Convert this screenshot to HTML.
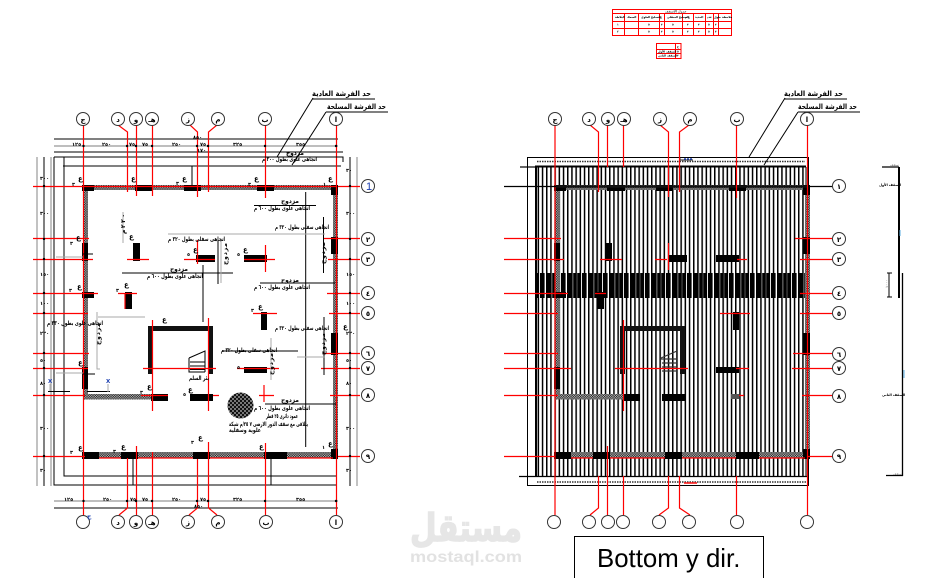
<!DOCTYPE html>
<html lang="ar"><head><meta charset="utf-8"><title>Bottom y dir.</title>
<style>
html,body{margin:0;padding:0;background:#fff;width:932px;height:578px;overflow:hidden}
svg{display:block}
.r{stroke:#f00;stroke-width:1.2;fill:none}
.k{stroke:#000;stroke-width:1;fill:none}
.g{stroke:#a8a8a8;stroke-width:1.4;fill:none}
.c{stroke:#333;stroke-width:1;fill:#fff}
text{font-family:"DejaVu Sans","Liberation Sans",sans-serif;font-weight:700;fill:#000}
.a{font-size:6px}
.n{font-size:5px}
.l{font-size:7.5px}
.e{font-size:7px}
</style></head><body>
<svg width="932" height="578" viewBox="0 0 932 578" xmlns="http://www.w3.org/2000/svg">
<defs>
<pattern id="h" width="2.4" height="2.4" patternUnits="userSpaceOnUse"><rect width="2.4" height="2.4" fill="#b5b5b5"/><rect width="1.2" height="1.2" fill="#222"/><rect x="1.2" y="1.2" width="1.2" height="1.2" fill="#222"/></pattern>
<pattern id="cc" width="4" height="4" patternUnits="userSpaceOnUse"><rect width="4" height="4" fill="#777"/><rect width="2" height="2" fill="#111"/><rect x="2" y="2" width="2" height="2" fill="#111"/></pattern>
<pattern id="v" width="4.2" height="10" patternUnits="userSpaceOnUse"><rect width="1.5" height="10" fill="#000"/></pattern>
<pattern id="b" width="21" height="10" patternUnits="userSpaceOnUse"><rect width="5" height="10" fill="#000"/><rect x="6.2" width="2.8" height="10" fill="#000"/><rect x="10.2" width="3.6" height="10" fill="#000"/><rect x="15" width="4.6" height="10" fill="#000"/></pattern>
<g id="st">
<rect x="82" y="185" width="255" height="5" fill="url(#h)"/>
<rect x="83" y="185" width="5" height="212" fill="url(#h)"/>
<rect x="333" y="185" width="5" height="272" fill="url(#h)"/>
<rect x="82" y="452" width="255" height="6" fill="url(#h)"/>
<rect x="83" y="394" width="70" height="5.5" fill="url(#h)"/>
<g fill="#000">
<rect x="82" y="185" width="12" height="6"/><rect x="135" y="185" width="18" height="6"/><rect x="184" y="185" width="17" height="6"/><rect x="257" y="185" width="17" height="6"/><rect x="331" y="185" width="7" height="10"/>
<rect x="82" y="243" width="6" height="18"/><rect x="82" y="292" width="12" height="6"/><rect x="82" y="367" width="6" height="22"/>
<rect x="133" y="243" width="7" height="18"/><rect x="125" y="292" width="7" height="17"/><rect x="196" y="255" width="19" height="7"/><rect x="244" y="255" width="23" height="7"/><rect x="261" y="312" width="6" height="18"/><rect x="244" y="367" width="23" height="6"/><rect x="151" y="394" width="17" height="7"/><rect x="190" y="394" width="23" height="7"/>
<rect x="331" y="237" width="7" height="17"/><rect x="331" y="333" width="7" height="22"/>
<rect x="82" y="452" width="17" height="7"/><rect x="121" y="452" width="17" height="7"/><rect x="193" y="452" width="17" height="7"/><rect x="264" y="452" width="23" height="7"/><rect x="331" y="449" width="7" height="10"/>
</g>
<path d="M148 326H213V374H208V331H153V374H148Z" fill="#111"/>
</g>
</defs>

<!-- schedules -->
<g fill="none" stroke="#f00" stroke-width="1">
<rect x="612.5" y="9.5" width="119" height="26"/>
<path d="M612 13.5H732M612 21.5H732M612 28.5H732M624.5 14V35M638.5 14V35M659.5 14V35M664.5 14V35M682.5 14V35M693.5 14V35M705.5 14V35M713.5 14V35M718.5 14V35"/>
<rect x="656.5" y="43.5" width="24.5" height="15"/>
<path d="M656 49.5H681M656 53.5H681M675.5 43V58"/>
</g>
<g style="font-size:2.8px">
<text x="665" y="12.5" style="font-size:3px;fill:#555">جدول الأسقف</text>
<text x="615" y="18">البلاطة</text><text x="627" y="18">السمك</text><text x="641" y="18">التسليح العلوي</text><text x="660" y="18">ع</text><text x="667" y="18">التسليح السفلي</text><text x="685" y="18">ع م</text><text x="695" y="18">الحديد</text><text x="707" y="18">عدد</text><text x="714" y="18">طول</text><text x="722" y="18">ملاحظة</text>
<text x="617" y="25.5">١</text><text x="648" y="25.5">٥</text><text x="661" y="25.5">٣</text><text x="672" y="25.5">٥</text><text x="687" y="25.5">٣</text><text x="698" y="25.5">٣</text><text x="708" y="25.5">٥</text><text x="715" y="25.5">٣</text>
<text x="617" y="32.5">٢</text><text x="648" y="32.5">٥</text><text x="661" y="32.5">٣</text><text x="672" y="32.5">٥</text><text x="687" y="32.5">٣</text><text x="698" y="32.5">٣</text><text x="708" y="32.5">٥</text><text x="715" y="32.5">٣</text>
<text x="658" y="52.5">السقف الأول</text><text x="677" y="47.5">ع</text><text x="677" y="52.5">٥</text><text x="658" y="56.5">السقف الثاني</text><text x="677" y="56.5">٣</text>
</g>

<!-- ===== LEFT PLAN ===== -->
<g class="k">
<path d="M54 139H338M54 152H343M54 157H343V162M63 166H341M54 157V485H337M64 157V476H337"/>
<path d="M133 459V485M271 459V485M192 166V186"/>
<path d="M44 157V486M350 157V486"/>
<path d="M54 508H338"/>
</g>
<g class="g">
<path d="M54 146H338M54 501H338M37 157V486M51 157V486M357 157V486" />
</g>
<use href="#st"/>
<circle cx="240.5" cy="405.5" r="13" fill="url(#cc)"/>
<!-- stair -->
<path class="k" d="M189 358L205 351V372M189 358V372H205M190 362H205M190 366H205M190 369.5H205"/>
<!-- reds verticals -->
<g class="r">
<path d="M83.5 125V515M118 125L127.5 132V192M136.5 125V196M152.5 125V196M190 125L197.5 132V197M217 125L208.5 132V192M265.5 125V198M336.5 125V515"/>
<path d="M88 186.5H336M99 458H121M138 458H193M210 458H264M287 458H333"/>
<path d="M152.5 320V411M208.5 318V411M197.5 240V264M265.5 245V272M152.5 452V515M136.5 446V515M127.5 458V508L119 515M197.5 459V508L189 515M208.5 442V508L217 515M265.5 443V515"/>
<path d="M33 186.5H88M33 238.5H89M33 259.5H93M33 293.5H98M33 313.5H88M33 353.5H89M33 368.5H88M33 395.5H85M33 456.5H85"/>
<path d="M338 186.5H360M323 238.5H360M328 259.5H360M327 293.5H360M329 313.5H360M323 353.5H360M321 368.5H360M330 395.5H360M338 456.5H360"/>
<path d="M127 259.5H149M184 259.5H215M244 259.5H275M118 293.5H137M253 313.5H277M143 368.5H216M237 368.5H279M141 395.5H168M213 395.5H219M259 395.5H274M264 385V402M125 309V293"/>
</g>
<!-- callout and dimension lines -->
<g class="k">
<path d="M312 99H375M313 98L277 157M326 112H388M326 112L292 165"/>
<path d="M262 157H342M254 205.5H316M122 273H233M260 283H335M222 351H298M265 404H336"/>
<path d="M305.7 192V447M323.5 217V273M203 265V322M324 317V375M93 254H83M95 374H83M218 284V240"/>
<path d="M48 391.5H70M87 391.5H110"/>
</g>
<g class="g" style="stroke-width:1">
<path d="M168 234H325M123 212V243M221 240V283M97 312V369H100M98 317H145M271 338V380M297 357H325"/>
<path d="M56 257H83M56 373H83M50 384V391M108 384V392"/>
</g>
<g fill="#000">
<circle cx="83.5" cy="146" r="1.2"/><circle cx="127" cy="146" r="1.2"/><circle cx="136" cy="146" r="1.2"/><circle cx="152" cy="146" r="1.2"/><circle cx="197" cy="146" r="1.2"/><circle cx="208" cy="146" r="1.2"/><circle cx="265" cy="146" r="1.2"/><circle cx="336" cy="146" r="1.2"/>
<circle cx="83.5" cy="501" r="1.2"/><circle cx="127" cy="501" r="1.2"/><circle cx="136" cy="501" r="1.2"/><circle cx="152" cy="501" r="1.2"/><circle cx="197" cy="501" r="1.2"/><circle cx="208" cy="501" r="1.2"/><circle cx="265" cy="501" r="1.2"/><circle cx="336" cy="501" r="1.2"/>
<circle cx="44" cy="186" r="1.2"/><circle cx="44" cy="239" r="1.2"/><circle cx="44" cy="259" r="1.2"/><circle cx="44" cy="293" r="1.2"/><circle cx="44" cy="313" r="1.2"/><circle cx="44" cy="353" r="1.2"/><circle cx="44" cy="368" r="1.2"/><circle cx="44" cy="395" r="1.2"/><circle cx="44" cy="456" r="1.2"/>
<circle cx="350" cy="186" r="1.2"/><circle cx="350" cy="239" r="1.2"/><circle cx="350" cy="259" r="1.2"/><circle cx="350" cy="293" r="1.2"/><circle cx="350" cy="313" r="1.2"/><circle cx="350" cy="353" r="1.2"/><circle cx="350" cy="368" r="1.2"/><circle cx="350" cy="395" r="1.2"/><circle cx="350" cy="456" r="1.2"/>
</g>
<!-- grid bubbles left -->
<g class="c">
<circle cx="83" cy="119" r="6.5"/><circle cx="118" cy="119" r="6.5"/><circle cx="136" cy="119" r="6.5"/><circle cx="152" cy="119" r="6.5"/><circle cx="188" cy="119" r="6.5"/><circle cx="218" cy="119" r="6.5"/><circle cx="265" cy="119" r="6.5"/><circle cx="336" cy="119" r="6.5"/>
<circle cx="83" cy="522" r="6.5"/><circle cx="118" cy="522" r="6.5"/><circle cx="136" cy="522" r="6.5"/><circle cx="152" cy="522" r="6.5"/><circle cx="188" cy="522" r="6.5"/><circle cx="218" cy="522" r="6.5"/><circle cx="266" cy="522" r="6.5"/><circle cx="336" cy="522" r="6.5"/>
<circle cx="368" cy="186" r="6.5"/><circle cx="368" cy="239" r="6.5"/><circle cx="368" cy="259" r="6.5"/><circle cx="368" cy="293" r="6.5"/><circle cx="368" cy="313" r="6.5"/><circle cx="368" cy="353" r="6.5"/><circle cx="368" cy="368" r="6.5"/><circle cx="368" cy="395" r="6.5"/><circle cx="368" cy="456" r="6.5"/>
</g>
<g class="e" text-anchor="middle">
<text x="83" y="122">ج</text><text x="118" y="122">د</text><text x="136" y="122">و</text><text x="152" y="122">هـ</text><text x="188" y="122">ز</text><text x="218" y="122">م</text><text x="265" y="122">ب</text><text x="336" y="122">ا</text>
<text x="118" y="525">د</text><text x="136" y="525">و</text><text x="152" y="525">هـ</text><text x="188" y="525">ز</text><text x="218" y="525">م</text><text x="266" y="525">ب</text><text x="336" y="525">ا</text>
<text x="368" y="242">٢</text><text x="368" y="262">٣</text><text x="368" y="296">٤</text><text x="368" y="316">٥</text><text x="368" y="356">٦</text><text x="368" y="371">٧</text><text x="368" y="398">٨</text><text x="368" y="459">٩</text>
</g>
<text x="369" y="190" style="font-size:11px;font-weight:400;fill:#1c3fb0;font-family:'Liberation Sans',sans-serif" text-anchor="middle">1</text>
<text x="87" y="518" style="font-size:6px;fill:#1c3fb0">ج</text>

<!-- main labels -->
<g class="l">
<text x="312" y="96" textLength="59" lengthAdjust="spacingAndGlyphs">حد الفرشة العادية</text>
<text x="327" y="109" textLength="59" lengthAdjust="spacingAndGlyphs">حد الفرشة المسلحة</text>
</g>
<g class="a">
<text x="262" y="161" textLength="55" lengthAdjust="spacingAndGlyphs">اتجاهى علوى بطول ٣٠٠ م</text>
<text x="254" y="210" textLength="56" lengthAdjust="spacingAndGlyphs">اتجاهى علوى بطول ٦٠٠ م</text>
<text x="275" y="229" textLength="54" lengthAdjust="spacingAndGlyphs">اتجاهى سفلى بطول ٣٢٠ م</text>
<text x="168" y="241" textLength="57" lengthAdjust="spacingAndGlyphs">اتجاهى سفلى بطول ٣٢٠ م</text>
<text x="147" y="278" textLength="56" lengthAdjust="spacingAndGlyphs">اتجاهى علوى بطول ٦٠٠ م</text>
<text x="254" y="289" textLength="56" lengthAdjust="spacingAndGlyphs">اتجاهى علوى بطول ٦٠٠ م</text>
<text x="275" y="330" textLength="54" lengthAdjust="spacingAndGlyphs">اتجاهى سفلى بطول ٣٢٠ م</text>
<text x="221" y="352" textLength="56" lengthAdjust="spacingAndGlyphs">اتجاهى سفلى بطول ٣٢٠ م</text>
<text x="47" y="325" textLength="56" lengthAdjust="spacingAndGlyphs">اتجاهى علوى بطول ٣٣٠ م</text>
<text x="254" y="410" textLength="56" lengthAdjust="spacingAndGlyphs">اتجاهى علوى بطول ٦٠٠ م</text>
<text x="266" y="418" textLength="32" lengthAdjust="spacingAndGlyphs">عمود دائرى ٢٥ قطر</text>
<text x="229" y="426" textLength="79" lengthAdjust="spacingAndGlyphs">يتلاقى مع سقف الدور الارضى ٧ ٢٥/م شبكة</text>
<text x="229" y="432" textLength="32" lengthAdjust="spacingAndGlyphs">علوية وسفلية</text>
<text x="189" y="380" textLength="20" lengthAdjust="spacingAndGlyphs">بئر السلم</text>
<text x="0" y="0" transform="translate(125,234) rotate(-90)" textLength="20">٢٢٠م</text>
<text x="0" y="0" transform="translate(325,264) rotate(-90)" textLength="22">مزدوج</text>
<text x="0" y="0" transform="translate(227,265) rotate(-90)" textLength="22">مزدوج</text>
<text x="0" y="0" transform="translate(100,345) rotate(-90)" textLength="22">مزدوج</text>
<text x="0" y="0" transform="translate(325,355) rotate(-90)" textLength="22">مزدوج</text>
<text x="0" y="0" transform="translate(273,375) rotate(-90)" textLength="22">مزدوج</text>
<text x="286" y="155" textLength="18">مزدوج</text><text x="281" y="203" textLength="18">مزدوج</text><text x="170" y="271" textLength="18">مزدوج</text><text x="281" y="282" textLength="18">مزدوج</text><text x="281" y="402" textLength="18">مزدوج</text>
</g>
<!-- column marks -->
<g>
<text x="78" y="181" class="e">ع</text><text x="131" y="181" class="e">ع</text><text x="182" y="181" class="e">ع</text><text x="254" y="181" class="e">ع</text><text x="328" y="181" class="e">ع</text>
<text x="76" y="240" class="e">ع</text><text x="129" y="239" class="e">ع</text><text x="193" y="252" class="e">ع</text><text x="243" y="252" class="e">ع</text><text x="77" y="289" class="e">ع</text><text x="124" y="287" class="e">ع</text><text x="258" y="309" class="e">ع</text><text x="162" y="322" class="e">ع</text><text x="343" y="329" class="e">ع</text><text x="78" y="365" class="e">ع</text><text x="147" y="389" class="e">ع</text><text x="188" y="392" class="e">ع</text><text x="78" y="450" class="e">ع</text><text x="121" y="449" class="e">ع</text><text x="198" y="440" class="e">ع</text><text x="259" y="449" class="e">ع</text><text x="328" y="446" class="e">ع</text>
</g>
<g class="n">
<text x="72" y="186">٣</text><text x="176" y="185">٣</text><text x="248" y="186">٣</text><text x="323" y="186">١</text><text x="70" y="245">٣</text><text x="69" y="292">٣</text><text x="116" y="292">٣</text><text x="187" y="256">٥</text><text x="237" y="256">٥</text><text x="251" y="312">٣</text><text x="140" y="394">٣</text><text x="183" y="396">٥</text><text x="237" y="369">٥</text><text x="70" y="454">٣</text><text x="113" y="453">٣</text><text x="191" y="444">٣</text><text x="322" y="449">١</text>
<text x="72" y="146">١٢٥</text><text x="102" y="146">٢٥٠</text><text x="129" y="146">٧٥</text><text x="142" y="146">٧٥</text><text x="172" y="146">٢٥٠</text><text x="200" y="146">٧٥</text><text x="233" y="146">٣٢٥</text><text x="296" y="146">٣٥٥</text>
<text x="193" y="139">٨٥٠</text><text x="197" y="152">١٧٠</text><text x="64" y="501">١٢٥</text><text x="103" y="501">٢٥٠</text><text x="130" y="501">٧٥</text><text x="142" y="501">٧٥</text><text x="172" y="501">٢٥٠</text><text x="200" y="501">٧٥</text><text x="233" y="501">٣٢٥</text><text x="296" y="501">٣٥٥</text><text x="194" y="508">٨٥٠</text>
<text x="40" y="180">٣٠٠</text><text x="40" y="215">٣٠٠</text><text x="40" y="276">١٥٠</text><text x="40" y="305">١٠٠</text><text x="40" y="335">٢٢٠</text><text x="40" y="362">٥٠</text><text x="40" y="385">٨٠</text><text x="40" y="430">٣٠٠</text><text x="40" y="472">٣٠</text>
<text x="346" y="172">٣٠</text><text x="346" y="215">٣٠٠</text><text x="346" y="276">١٥٠</text><text x="346" y="305">١٠٠</text><text x="346" y="335">٢٢٠</text><text x="346" y="362">٥٠</text><text x="346" y="385">٨٠</text><text x="346" y="430">٣٠٠</text><text x="346" y="472">٣٠</text>
</g>
<!-- small blue crosses -->
<text x="48" y="383" style="fill:#1c3fb0;font-size:5.5px">X</text><text x="106" y="383" style="fill:#1c3fb0;font-size:5.5px">X</text>

<!-- ===== RIGHT PLAN ===== -->
<rect x="536" y="167" width="269" height="309" fill="url(#v)"/>
<rect x="537" y="273" width="268" height="25" fill="url(#b)"/>
<g class="k">
<path d="M527.5 157.5H808.5V485.5H527.5Z"/>
<path d="M519 476.5H809" style="stroke-width:1.2"/>
<path d="M520 167H535" style="stroke-width:1.2"/>
<path d="M535 166.5H806" style="stroke-width:2"/>
<path d="M536 166V477" style="stroke-width:2"/>
<path d="M806 167V476"/>
</g>
<path d="M537 161.5H805M537 482H806" stroke="#333" stroke-width="1.4" stroke-dasharray="1.5 1"/>
<path d="M680 160.5V158M680 160H693" stroke="#222" stroke-width="1"/>
<path d="M684 159H692" stroke="#1c3fb0" stroke-width="1.4" stroke-dasharray="2 1"/>
<rect x="684" y="482" width="13" height="2" fill="#f00" opacity=".7"/>
<use href="#st" x="472"/>
<path d="M555 186.5H808" stroke="#111" stroke-width="2.5" fill="none"/>
<path d="M661 358L677 351M661 359H677M662 363H677M662 367H677M662 371H677" stroke="#333" stroke-width="1.2" fill="none"/>
<g class="r">
<path d="M555 125V515M590 125L598.5 132V192M607.5 125V167M623.5 125V167M660 125L668.5 132V197M689 125L679.5 132V192M736.5 125V198M807.5 125V476"/>
<path d="M668.5 243V270M623.5 320V411M807.5 476V515M571 458H593M610 458H665M682 458H736M759 458H805"/>
<path d="M598.5 476V508L590 515M607.5 446V515M623.5 476V515M668.5 476V508L659 515M679.5 476V508L690 515M736.5 476V515"/>
<path d="M504 238.5H561M504 259.5H564M504 293.5H568M504 313.5H558M504 353.5H558M504 368.5H571M504 395.5H558M504 456.5H555"/>
<path d="M795 238.5H832M800 259.5H832M800 293.5H832M800 313.5H832M793 353.5H832M792 368.5H832M802 395.5H832M808 456.5H832"/>
<path d="M600 259.5H622M655 259.5H667M737 259.5H747M720 313.5H750M595 293.5H606M736 368.5H749M615 368.5H688M731 395.5H744"/>
</g>
<path d="M504 186.5H556M808 186.5H832" class="k" style="stroke-width:1.2"/>
<path d="M784 99H847M785 98L749 157M798 112H860M798 112L764 165" class="k"/>
<rect x="731" y="394" width="8" height="5" fill="#555"/>
<g class="c">
<circle cx="555" cy="119" r="6.5"/><circle cx="589" cy="119" r="6.5"/><circle cx="608" cy="119" r="6.5"/><circle cx="624" cy="119" r="6.5"/><circle cx="660" cy="119" r="6.5"/><circle cx="690" cy="119" r="6.5"/><circle cx="737" cy="119" r="6.5"/><circle cx="807" cy="119" r="6.5"/>
<circle cx="554" cy="522" r="6.5"/><circle cx="589" cy="522" r="6.5"/><circle cx="608" cy="522" r="6.5"/><circle cx="623" cy="522" r="6.5"/><circle cx="659" cy="522" r="6.5"/><circle cx="689" cy="522" r="6.5"/><circle cx="737" cy="522" r="6.5"/><circle cx="807" cy="522" r="6.5"/>
<circle cx="839" cy="186" r="6.5"/><circle cx="839" cy="239" r="6.5"/><circle cx="839" cy="259" r="6.5"/><circle cx="839" cy="293" r="6.5"/><circle cx="839" cy="313" r="6.5"/><circle cx="839" cy="354" r="6.5"/><circle cx="839" cy="368" r="6.5"/><circle cx="839" cy="396" r="6.5"/><circle cx="839" cy="456" r="6.5"/>
</g>
<g class="e" text-anchor="middle">
<text x="555" y="122">ج</text><text x="589" y="122">د</text><text x="608" y="122">و</text><text x="624" y="122">هـ</text><text x="660" y="122">ز</text><text x="690" y="122">م</text><text x="737" y="122">ب</text><text x="807" y="122">ا</text>
<text x="839" y="189">١</text><text x="839" y="242">٢</text><text x="839" y="262">٣</text><text x="839" y="296">٤</text><text x="839" y="316">٥</text><text x="839" y="357">٦</text><text x="839" y="371">٧</text><text x="839" y="399">٨</text><text x="839" y="459">٩</text>
</g>
<g class="l">
<text x="784" y="96" textLength="59" lengthAdjust="spacingAndGlyphs">حد الفرشة العادية</text>
<text x="798" y="109" textLength="59" lengthAdjust="spacingAndGlyphs">حد الفرشة المسلحة</text>
</g>

<!-- side key -->
<path d="M899 167V298" stroke="#000" stroke-width="2"/>
<path d="M882 167H899M902.5 273V476M886 475.5H903" stroke="#000" stroke-width="1.3"/>
<path d="M889 273V297M887 273H892M887 297H892" stroke="#000" stroke-width="1"/>
<text x="879" y="186" style="font-size:3.4px">السقف الأول</text>
<text x="882" y="396" style="font-size:3.4px">السقف الثاني</text>
<text x="890" y="166" style="font-size:3px;fill:#888">سقف</text>
<text x="893" y="475" style="font-size:3px;fill:#888">سقف</text>
<text x="0" y="0" transform="translate(888,288) rotate(-90)" style="font-size:3.5px;fill:#888">١٠٠٠</text>
<path d="M900 230V236M904 370V378" stroke="#5aaee0" stroke-width="1"/>

<!-- watermark -->
<text x="410" y="541" textLength="112" lengthAdjust="spacingAndGlyphs" style="font-size:38px;fill:#e6e6e6;stroke:#e6e6e6;stroke-width:1.5">مستقل</text>
<text x="410" y="562" textLength="112" lengthAdjust="spacingAndGlyphs" style="font-family:'Liberation Sans',sans-serif;font-size:16px;fill:#e2e2e2">mostaql.com</text>

<!-- title box -->
<rect x="574.5" y="536.5" width="189" height="50" fill="#fff" stroke="#000" stroke-width="1"/>
<text x="597" y="567" style="font-family:'Liberation Sans',sans-serif;font-weight:400;font-size:25.8px">Bottom y dir.</text>
</svg>
</body></html>
